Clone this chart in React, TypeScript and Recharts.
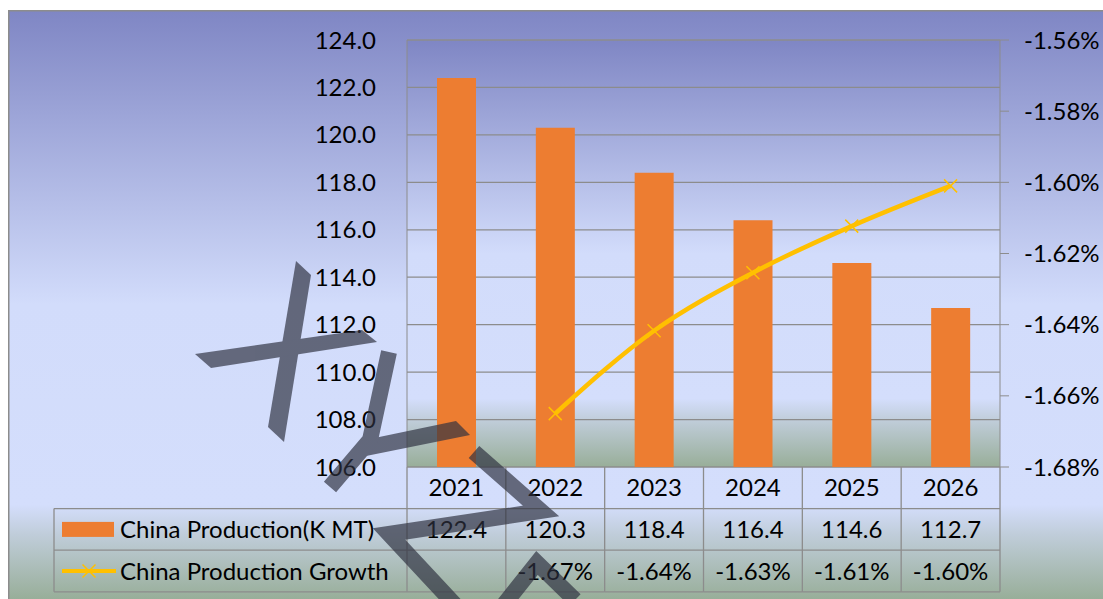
import React from 'react';
import { ComposedChart, Bar, Line, XAxis, YAxis, CartesianGrid } from 'recharts';

// ---------- data ----------
const years = ['2021', '2022', '2023', '2024', '2025', '2026'];
const production = [122.4, 120.3, 118.4, 116.4, 114.6, 112.7];
const growth: (number | null)[] = [null, -1.665, -1.6417, -1.6254, -1.6123, -1.601];
const leftTicks = [106, 108, 110, 112, 114, 116, 118, 120, 122, 124];
const rightTicks = [-1.68, -1.66, -1.64, -1.62, -1.6, -1.58, -1.56];
const seriesNames = ['China Production(K MT)', 'China Production Growth'];

const data = years.map((year, i) => ({ year, production: production[i], growth: growth[i] }));

// ---------- layout ----------
const W = 1095;
const H = 589;
const LEFT_W = 399;
const RIGHT_W = 103;
const TOP = 30;
const XAXIS_H = 132;
const PLOT_W = W - LEFT_W - RIGHT_W;
const COL_W = PLOT_W / years.length;
const ROW_H = 41.6;
const LEGEND_X = 46;
const FONT = 'Lato, "Open Sans", sans-serif';
const FS = 24;
const GRID = '#8c8c8c';
const BAR = '#ED7D31';
const LINE = '#FFC000';

const fmtGrowth = (v: number | null) => (v == null ? '' : `${v.toFixed(2)}%`);

const XMark = ({ cx, cy, s = 6.5, w = 1.5 }: { cx: number; cy: number; s?: number; w?: number }) => (
  <path
    d={`M${cx - s},${cy - s}L${cx + s},${cy + s}M${cx - s},${cy + s}L${cx + s},${cy - s}`}
    stroke={LINE}
    strokeWidth={w}
    fill="none"
  />
);

const XDot = (props: any) => {
  const { cx, cy, value } = props;
  if (cx == null || cy == null || value == null || Number.isNaN(cy)) return <g />;
  return <XMark cx={cx} cy={cy} />;
};

const TableTick = (props: any) => {
  const { x, y, payload } = props;
  const i: number = payload.index;
  const left = x - COL_W / 2;
  const right = x + COL_W / 2;
  const lineProps = { stroke: GRID, strokeWidth: 1.3 };
  const textProps = { fontFamily: FONT, fontSize: FS, fill: '#000', textAnchor: 'middle' as const, dy: '0.36em' };
  return (
    <g>
      {i === 0 && (
        <g>
          <line x1={left} y1={y} x2={left} y2={y + 3 * ROW_H} {...lineProps} />
          <line x1={LEGEND_X} y1={y + ROW_H} x2={LEGEND_X} y2={y + 3 * ROW_H} {...lineProps} />
          {[1, 2, 3].map((r) => (
            <line key={r} x1={LEGEND_X} y1={y + r * ROW_H} x2={left} y2={y + r * ROW_H} {...lineProps} />
          ))}
          <rect x={LEGEND_X + 8} y={y + ROW_H * 1.5 - 7.5} width={52} height={15} fill={BAR} />
          <text x={LEGEND_X + 66} y={y + ROW_H * 1.5} fontFamily={FONT} fontSize={FS} fill="#000" dy="0.36em">
            {seriesNames[0]}
          </text>
          <line x1={LEGEND_X + 8} y1={y + ROW_H * 2.5} x2={LEGEND_X + 62} y2={y + ROW_H * 2.5} stroke={LINE} strokeWidth={4} />
          <XMark cx={LEGEND_X + 35} cy={y + ROW_H * 2.5} />
          <text x={LEGEND_X + 66} y={y + ROW_H * 2.5} fontFamily={FONT} fontSize={FS} fill="#000" dy="0.36em">
            {seriesNames[1]}
          </text>
        </g>
      )}
      <line x1={right} y1={y} x2={right} y2={y + 3 * ROW_H} {...lineProps} />
      {[1, 2, 3].map((r) => (
        <line key={r} x1={left} y1={y + r * ROW_H} x2={right} y2={y + r * ROW_H} {...lineProps} />
      ))}
      <text x={x} y={y + ROW_H * 0.5} {...textProps}>{payload.value}</text>
      <text x={x} y={y + ROW_H * 1.5} {...textProps}>{production[i].toFixed(1)}</text>
      <text x={x} y={y + ROW_H * 2.5} {...textProps}>{fmtGrowth(growth[i])}</text>
    </g>
  );
};

// decorative watermark (page coordinates)
const wmPolygons = [
  '296,261 311,275 284,442 268,427',
  '195,354 362,330 377,342 211,368',
  '360,441 456,421 470,435 366,456',
];
const wmPolylines = [
  '389,352 370,440 330,487',
  '474,452 541,511 389,534 458,608',
  '498,612 537,563 575,600',
];

const gradStops = [
  { o: '0%', c: '#7F86C4' },
  { o: '50%', c: '#D2DCFB' },
  { o: '84%', c: '#D4DEFC' },
  { o: '89%', c: '#C0CDDA' },
  { o: '100%', c: '#98AE99' },
];

export default function App() {
  return (
    <div>
      <svg width={0} height={0} style={{ position: 'absolute' }}>
        <defs>
          <linearGradient id="plotBg" x1="0" y1="0" x2="0" y2="1">
            {gradStops.map((s) => (
              <stop key={s.o} offset={s.o} stopColor={s.c} />
            ))}
          </linearGradient>
        </defs>
      </svg>
      <div
        style={{
          position: 'fixed',
          left: 8,
          top: 10,
          width: W,
          height: H,
          overflow: 'hidden',
          background: `linear-gradient(to bottom, ${gradStops.map((s) => `${s.c} ${s.o}`).join(', ')})`,
          boxShadow: `inset 1.5px 1.5px 0 ${GRID}`,
        }}
      >
        <ComposedChart width={W} height={H} data={data} margin={{ top: TOP, right: 0, bottom: 0, left: 0 }}>
          <CartesianGrid yAxisId="left" vertical={false} stroke={GRID} strokeWidth={1.3} fill="url(#plotBg)" fillOpacity={1} />
          <XAxis
            dataKey="year"
            xAxisId={0}
            height={XAXIS_H}
            interval={0}
            tickSize={0}
            tickMargin={0}
            axisLine={false}
            tickLine={false}
            tick={<TableTick />}
          />
          <YAxis
            yAxisId="left"
            orientation="left"
            width={LEFT_W}
            domain={[106, 124]}
            ticks={leftTicks}
            interval={0}
            allowDataOverflow
            tickSize={0}
            tickMargin={31}
            tickLine={false}
            stroke={GRID}
            tickFormatter={(v: number) => v.toFixed(1)}
            tick={{ fill: '#000', fontSize: FS, fontFamily: FONT }}
          />
          <YAxis
            yAxisId="right"
            orientation="right"
            width={RIGHT_W}
            domain={[-1.68, -1.56]}
            ticks={rightTicks}
            interval={0}
            allowDataOverflow
            tickSize={9}
            tickMargin={15}
            stroke={GRID}
            tickFormatter={(v: number) => `${v.toFixed(2)}%`}
            tick={{ fill: '#000', fontSize: FS, fontFamily: FONT }}
          />
          <Bar yAxisId="left" dataKey="production" fill={BAR} barSize={39} isAnimationActive={false} />
          <Line
            yAxisId="right"
            dataKey="growth"
            type="monotone"
            stroke={LINE}
            strokeWidth={4.5}
            dot={<XDot />}
            activeDot={false}
            connectNulls={false}
            isAnimationActive={false}
          />
        </ComposedChart>
      </div>
      <svg
        width={1103}
        height={599}
        style={{ position: 'fixed', left: 0, top: 0, pointerEvents: 'none' }}
      >
        <g opacity={0.68} fill="#2e3140" stroke="#2e3140">
          {wmPolygons.map((p) => (
            <polygon key={p} points={p} stroke="none" />
          ))}
          {wmPolylines.map((p) => (
            <polyline key={p} points={p} fill="none" strokeWidth={16} strokeLinejoin="miter" />
          ))}
        </g>
      </svg>
    </div>
  );
}
